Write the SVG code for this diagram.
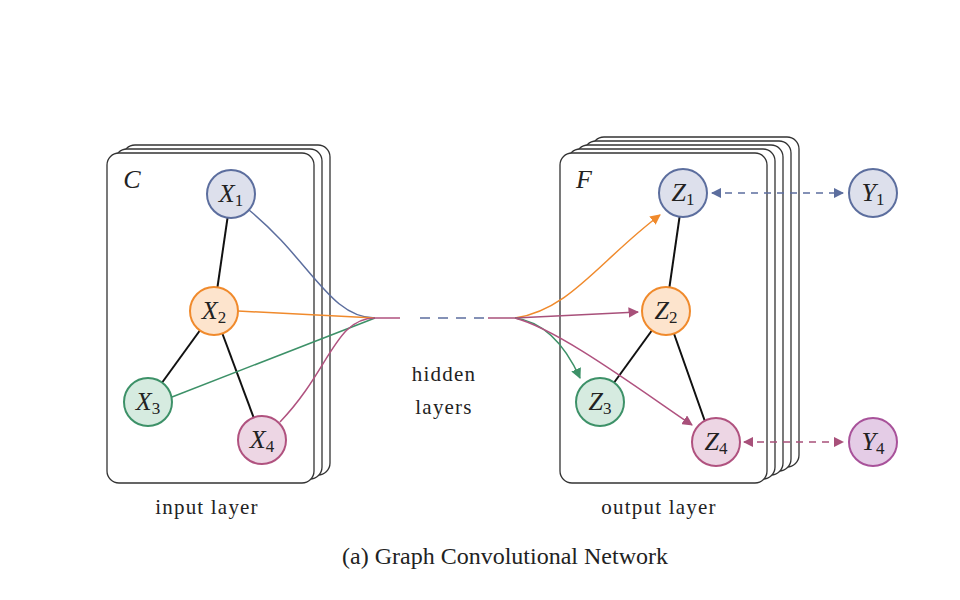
<svg xmlns="http://www.w3.org/2000/svg" width="960" height="600" viewBox="0 0 960 600">
<style>
.card{fill:#fff;stroke:#333;stroke-width:1.3}
.n{stroke-width:2}
.b{fill:#dde0ec;stroke:#5c6e9e}.o{fill:#fde4cd;stroke:#f08a2c}.g{fill:#d6ebe0;stroke:#3d9168}.p{fill:#edd6e4;stroke:#b0527f}.py{fill:#e4cce6;stroke:#a8529a}
.lb{font-family:"Liberation Serif",serif;font-style:italic;font-size:26px;text-anchor:middle;fill:#222}
.sub{font-style:normal;font-size:17px}
.t{font-family:"Liberation Serif",serif;font-size:21px;letter-spacing:1.2px;fill:#222;text-anchor:middle}
.e{stroke:#111;stroke-width:2;fill:none}
.c{fill:none;stroke-width:1.5}
</style>
<defs>
<marker id="ao" viewBox="0 0 10 10" refX="9" refY="5" markerWidth="7" markerHeight="7" orient="auto"><path d="M0,0L10,5L0,10z" fill="#f08a2c"/></marker>
<marker id="ap" viewBox="0 0 10 10" refX="9" refY="5" markerWidth="7" markerHeight="7" orient="auto"><path d="M0,0L10,5L0,10z" fill="#a8507a"/></marker>
<marker id="ag" viewBox="0 0 10 10" refX="9" refY="5" markerWidth="7" markerHeight="7" orient="auto"><path d="M0,0L10,5L0,10z" fill="#3d9168"/></marker>
<marker id="ab" viewBox="0 0 10 10" refX="9" refY="5" markerWidth="7" markerHeight="7" orient="auto-start-reverse"><path d="M0,0L10,5L0,10z" fill="#5c6e9e"/></marker>
<marker id="am" viewBox="0 0 10 10" refX="9" refY="5" markerWidth="7" markerHeight="7" orient="auto-start-reverse"><path d="M0,0L10,5L0,10z" fill="#a8507a"/></marker>
</defs>
<g id="input-cards">
<rect class="card" x="123" y="145" width="207" height="330" rx="12"/>
<rect class="card" x="115" y="149" width="207" height="330" rx="12"/>
<rect class="card" x="107" y="153" width="207" height="330" rx="12"/>
<text class="lb" x="132" y="188">C</text>
</g>
<g id="output-cards">
<rect class="card" x="592" y="137" width="207" height="330" rx="12"/>
<rect class="card" x="584" y="141" width="207" height="330" rx="12"/>
<rect class="card" x="576" y="145" width="207" height="330" rx="12"/>
<rect class="card" x="568" y="149" width="207" height="330" rx="12"/>
<rect class="card" x="560" y="153" width="207" height="330" rx="12"/>
<text class="lb" x="584" y="188">F</text>
</g>
<g id="connectors">
<line class="e" x1="231" y1="194" x2="214" y2="311"/>
<line class="e" x1="214" y1="311" x2="148" y2="402"/>
<line class="e" x1="214" y1="311" x2="262" y2="440"/>
<line class="e" x1="683" y1="193" x2="666" y2="311"/>
<line class="e" x1="666" y1="311" x2="600" y2="402"/>
<line class="e" x1="666" y1="311" x2="708" y2="430"/>
<path class="c" stroke="#5c6e9e" d="M249,210 C310,260 330,318 375,318"/>
<path class="c" stroke="#f08a2c" d="M238,311 L375,318"/>
<path class="c" stroke="#3d9168" d="M172,397 L375,318"/>
<path class="c" stroke="#b0527f" d="M280,422 C330,370 335,318 375,318 L400,318"/>
<line class="c" stroke="#5c6e9e" stroke-dasharray="10,8" x1="420" y1="318" x2="485" y2="318"/>
<path class="c" stroke="#a8507a" d="M488,318 L515,318"/>
<path class="c" stroke="#f08a2c" marker-end="url(#ao)" d="M515,318 C570,310 600,260 660,215"/>
<path class="c" stroke="#a8507a" marker-end="url(#ap)" d="M515,318 L638,312"/>
<path class="c" stroke="#3d9168" marker-end="url(#ag)" d="M515,318 C545,322 565,345 580,378"/>
<path class="c" stroke="#b0527f" marker-end="url(#ap)" d="M515,318 C560,330 640,390 692,425"/>
<line class="c" stroke="#5c6e9e" stroke-dasharray="7,6" marker-start="url(#ab)" marker-end="url(#ab)" x1="712" y1="193" x2="843" y2="193"/>
<line class="c" stroke="#a8507a" stroke-dasharray="7,6" marker-start="url(#am)" marker-end="url(#am)" x1="744" y1="442" x2="843" y2="442"/>
</g>
<g id="X1"><circle class="n b" cx="231" cy="194" r="24"/><text class="lb" x="231" y="202">X<tspan class="sub" dy="4">1</tspan></text></g>
<g id="X2"><circle class="n o" cx="214" cy="311" r="24"/><text class="lb" x="214" y="319">X<tspan class="sub" dy="4">2</tspan></text></g>
<g id="X3"><circle class="n g" cx="148" cy="402" r="24"/><text class="lb" x="148" y="410">X<tspan class="sub" dy="4">3</tspan></text></g>
<g id="X4"><circle class="n p" cx="262" cy="440" r="24"/><text class="lb" x="262" y="448">X<tspan class="sub" dy="4">4</tspan></text></g>
<g id="Z1"><circle class="n b" cx="683" cy="193" r="24"/><text class="lb" x="683" y="201">Z<tspan class="sub" dy="4">1</tspan></text></g>
<g id="Z2"><circle class="n o" cx="666" cy="311" r="24"/><text class="lb" x="666" y="319">Z<tspan class="sub" dy="4">2</tspan></text></g>
<g id="Z3"><circle class="n g" cx="600" cy="402" r="24"/><text class="lb" x="600" y="410">Z<tspan class="sub" dy="4">3</tspan></text></g>
<g id="Z4"><circle class="n p" cx="716" cy="442" r="24"/><text class="lb" x="716" y="450">Z<tspan class="sub" dy="4">4</tspan></text></g>
<g id="Y1"><circle class="n b" cx="873" cy="193" r="24"/><text class="lb" x="873" y="201">Y<tspan class="sub" dy="4">1</tspan></text></g>
<g id="Y4"><circle class="n py" cx="873" cy="442" r="24"/><text class="lb" x="873" y="450">Y<tspan class="sub" dy="4">4</tspan></text></g>
<g id="labels">
<text class="t" x="444" y="381">hidden</text>
<text class="t" x="444" y="414">layers</text>
<text class="t" x="207" y="514">input layer</text>
<text class="t" x="659" y="514">output layer</text>
<text class="t" x="505" y="564" style="font-size:24px;letter-spacing:0">(a) Graph Convolutional Network</text>
</g>
</svg>
